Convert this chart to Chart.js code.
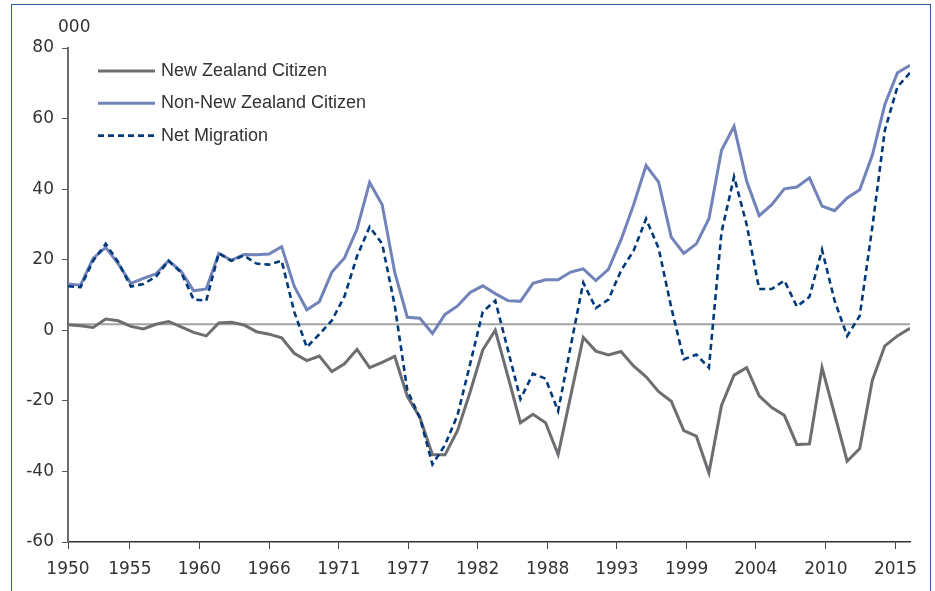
<!DOCTYPE html>
<html>
<head>
<meta charset="utf-8">
<script src="https://cdn.jsdelivr.net/npm/chart.js@4.4.1/dist/chart.umd.min.js"></script>
<style>
  html, body { margin: 0; padding: 0; background: #fff; }
  #wrap { position: relative; width: 935px; height: 591px; overflow: hidden; }
  #frame { position: absolute; left: 11px; top: 4px; width: 920px; height: 620px; border: 1.5px solid #2f5d9e; box-sizing: border-box; pointer-events: none; }
</style>
</head>
<body>
<div id="wrap">
  <canvas id="migChart" width="935" height="591"></canvas>
  <div id="frame"></div>
</div>
<script>
'use strict';

// years (one point per year)
let years = [
  1950, 1951, 1952, 1953, 1954, 1955, 1956, 1957, 1958, 1959,
  1960, 1961, 1962, 1963, 1964, 1965, 1966, 1967, 1968, 1969,
  1970, 1971, 1972, 1973, 1974, 1975, 1976, 1977, 1978, 1979,
  1980, 1981, 1982, 1983, 1984, 1985, 1986, 1987, 1988, 1989,
  1990, 1991, 1992, 1993, 1994, 1995, 1996, 1997, 1998, 1999,
  2000, 2001, 2002, 2003, 2004, 2005, 2006, 2007, 2008, 2009,
  2010, 2011, 2012, 2013, 2014, 2015, 2016, 2017
];

// series, thousands
let nzCitizen = [
  1.6, 1.3, 0.8, 3.2, 2.7, 1.1, 0.4, 1.7, 2.5, 1.0,
  -0.6, -1.6, 2.1, 2.3, 1.5, -0.4, -1.1, -2.1, -6.5, -8.6,
  -7.3, -11.7, -9.5, -5.4, -10.6, -9.1, -7.4, -18.7, -24.7, -35.3,
  -35.3, -28.4, -17.5, -5.6, 0.0, -13.0, -26.2, -23.8, -26.2, -35.2,
  -18.6, -2.0, -5.9, -7.0, -6.0, -10.1, -13.2, -17.4, -20.1, -28.4,
  -30.0, -40.4, -21.3, -12.7, -10.6, -18.6, -21.9, -24.1, -32.4, -32.2,
  -10.6, -23.8, -37.1, -33.5, -14.2, -4.4, -1.6, 0.6
];
let nonNzCitizen = [
  13.1, 12.8, 20.4, 23.5, 18.8, 13.3, 14.7, 16.0, 19.7, 16.7,
  11.2, 11.7, 21.8, 19.8, 21.5, 21.4, 21.6, 23.7, 12.5, 5.8,
  8.1, 16.5, 20.5, 28.7, 41.9, 35.6, 16.4, 3.7, 3.4, -0.9,
  4.5, 6.9, 10.7, 12.6, 10.4, 8.4, 8.2, 13.3, 14.3, 14.3,
  16.5, 17.4, 14.1, 17.3, 25.6, 35.5, 46.7, 42.0, 26.4, 21.8,
  24.5, 31.6, 51.0, 57.8, 42.3, 32.5, 35.6, 40.1, 40.6, 43.2,
  35.2, 33.9, 37.5, 39.8, 49.6, 64.0, 73.0, 75.1
];
let netMigration = [
  12.5, 12.2, 19.7, 24.5, 19.3, 12.4, 13.1, 15.2, 19.7, 16.4,
  8.7, 8.4, 21.8, 19.7, 21.2, 18.9, 18.6, 19.7, 5.3, -4.8,
  -1.1, 2.8, 9.6, 21.0, 29.3, 24.5, 7.0, -17.0, -24.8, -38.0,
  -32.5, -24.0, -9.5, 5.2, 8.4, -5.5, -19.5, -12.3, -13.7, -22.9,
  -4.5, 13.5, 6.3, 8.7, 16.9, 22.5, 31.6, 23.2, 6.5, -8.2,
  -6.9, -10.6, 27.8, 43.5, 30.0, 11.7, 11.7, 14.1, 6.7, 9.5,
  22.8, 8.4, -1.6, 4.1, 29.2, 56.7, 69.0, 73.0
];

// horizontal reference line (sits a little above the 0 tick in the original)
let baseLine = [1.7, 1.7];
let baseYears = [1950, 2017];

// x tick positions and their labels
let tickYears = [1950, 1954.92, 1960.45, 1966.0, 1971.55, 1977.06, 1982.6, 1988.17, 1993.68, 1999.23, 2004.73, 2010.31, 2015.85];
let tickLabels = ['1950', '1955', '1960', '1966', '1971', '1977', '1982', '1988', '1993', '1999', '2004', '2010', '2015'];

// y ticks
let yMin = -60;
let yMax = 80;
let yStep = 20;

function toPoints(xs, ys) {
  let pts = [];
  for (let i = 0; i < xs.length; i++) {
    pts.push({ x: xs[i], y: ys[i] });
  }
  return pts;
}

// legend drawn inside the plot + the "000" unit label
const insideLegend = {
  id: 'insideLegend',
  afterDraw(chart) {
    let ctx = chart.ctx;
    let area = chart.chartArea;
    ctx.save();
    ctx.font = '18px "Liberation Sans", Arial, sans-serif';
    ctx.fillStyle = '#333333';
    ctx.textBaseline = 'middle';
    let row = 0;
    chart.data.datasets.forEach(function (ds) {
      if (!ds.label) return;
      let y = area.top + 23 + row * 32.3;
      ctx.beginPath();
      ctx.strokeStyle = ds.borderColor;
      ctx.lineWidth = ds.borderWidth;
      ctx.setLineDash(ds.borderDash || []);
      ctx.moveTo(area.left + 30, y);
      ctx.lineTo(area.left + 87, y);
      ctx.stroke();
      ctx.setLineDash([]);
      ctx.fillText(ds.label, area.left + 93, y);
      row++;
    });
    ctx.font = '17px "DejaVu Sans", sans-serif';
    ctx.textAlign = 'left';
    ctx.fillText('000', area.left - 10, area.top - 20);
    ctx.restore();
  }
};

let ctx = document.getElementById('migChart').getContext('2d');
new Chart(ctx, {
  type: 'line',
  data: {
    datasets: [
      {
        label: 'New Zealand Citizen',
        data: toPoints(years, nzCitizen),
        borderColor: '#6d6e71',
        borderWidth: 3,
        order: 2
      },
      {
        label: 'Non-New Zealand Citizen',
        data: toPoints(years, nonNzCitizen),
        borderColor: '#7183b9',
        borderWidth: 3,
        order: 1
      },
      {
        label: 'Net Migration',
        data: toPoints(years, netMigration),
        borderColor: '#003a7a',
        borderWidth: 2.6,
        borderDash: [6, 4],
        order: 0
      },
      {
        label: '',
        data: toPoints(baseYears, baseLine),
        borderColor: '#a3a3a3',
        borderWidth: 2,
        order: 3
      }
    ]
  },
  options: {
    responsive: false,
    animation: false,
    devicePixelRatio: 1,
    elements: {
      point: { radius: 0 },
      line: { tension: 0, borderCapStyle: 'butt' }
    },
    layout: {
      padding: { top: 48, right: 25, left: 0, bottom: 0 }
    },
    plugins: {
      legend: { display: false },
      tooltip: { enabled: false }
    },
    scales: {
      x: {
        type: 'linear',
        min: 1950,
        max: 2017,
        afterBuildTicks: function (scale) {
          scale.ticks = tickYears.map(function (v) { return { value: v }; });
        },
        afterFit: function (scale) {
          scale.height = 49;
        },
        ticks: {
          autoSkip: false,
          maxRotation: 0,
          padding: 10,
          color: '#333333',
          font: { family: '"DejaVu Sans", sans-serif', size: 17 },
          callback: function (value, index) {
            return tickLabels[index];
          }
        },
        grid: {
          drawOnChartArea: false,
          drawTicks: true,
          tickLength: 7,
          color: '#444444',
          lineWidth: 1
        },
        border: { display: true, color: '#333333', width: 1.5 }
      },
      y: {
        min: yMin,
        max: yMax,
        afterFit: function (scale) {
          scale.width = 68;
        },
        ticks: {
          stepSize: yStep,
          padding: 8,
          color: '#333333',
          font: { family: '"DejaVu Sans", sans-serif', size: 17 }
        },
        grid: {
          drawOnChartArea: false,
          drawTicks: true,
          tickLength: 6,
          color: '#555555',
          lineWidth: 1
        },
        border: { display: true, color: '#6b6b6b', width: 2 }
      }
    }
  },
  plugins: [insideLegend]
});
</script>
</body>
</html>
